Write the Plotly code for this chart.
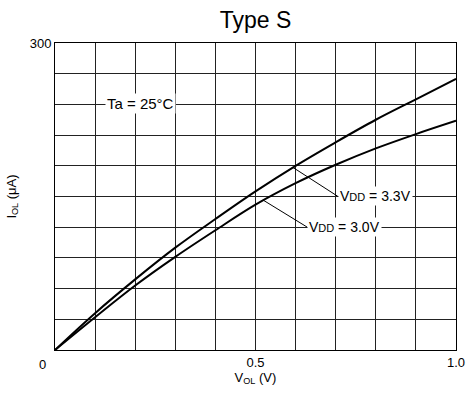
import plotly.graph_objects as go

# Output current vs output voltage, Type S, Ta = 25 °C
v_ol = [0.0, 0.1, 0.2, 0.3, 0.4, 0.5, 0.6, 0.7, 0.8, 0.9, 1.0]
i_ol_33 = [0, 36, 69, 100, 128, 155, 180, 203, 225, 245, 265]
i_ol_30 = [0, 32, 63, 91, 117, 142, 163, 181, 197, 211, 224]

x_ticks = [0.5, 1.0]
x_tick_text = ["0.5", "1.0"]
y_ticks = [300]
y_tick_text = ["300"]

FONT = "Liberation Sans, Arial, sans-serif"

fig = go.Figure()
for ys in (i_ol_33, i_ol_30):
    fig.add_trace(go.Scatter(
        x=v_ol, y=ys, mode="lines", line=dict(color="black", width=2, shape="spline"),
        showlegend=False, hoverinfo="skip",
    ))

axis_common = dict(
    showgrid=True, gridcolor="#222", gridwidth=1,
    showline=True, linecolor="black", linewidth=1, mirror=True,
    zeroline=False, ticks="", automargin=False,
    tickfont=dict(family=FONT, size=13, color="black"),
)

fig.update_xaxes(
    range=[0, 1.0], tickmode="array",
    tickvals=x_ticks, ticktext=x_tick_text,
    title=dict(text="V<sub>OL</sub> (V)", font=dict(family=FONT, size=13, color="black"), standoff=3),
    minor=dict(dtick=0.1, showgrid=True, gridcolor="#222", gridwidth=1, ticks=""),
    **axis_common,
)
fig.update_yaxes(
    range=[0, 300], tickmode="array",
    tickvals=y_ticks, ticktext=y_tick_text,
    title=dict(text="I<sub>OL</sub> (μA)", font=dict(family=FONT, size=13, color="black"), standoff=10),
    minor=dict(dtick=30, showgrid=True, gridcolor="#222", gridwidth=1, ticks=""),
    **axis_common,
)

fig.add_annotation(x=0, y=0, xref="paper", yref="paper", text="0", showarrow=False,
                   xanchor="right", yanchor="top", xshift=-7, yshift=-5,
                   font=dict(family=FONT, size=13, color="black"))

fig.add_annotation(x=0.212, y=240, text="Ta = 25°C", showarrow=False,
                   bgcolor="white", borderpad=1, yshift=1,
                   font=dict(family=FONT, size=15, color="black"))

label_font = dict(family=FONT, size=14, color="black")
fig.add_annotation(x=0.593, y=178.5, text="V<span style='font-size:11px'>DD</span> = 3.3V",
                   showarrow=True, arrowhead=0, arrowwidth=1, arrowcolor="black",
                   ax=45, ay=29, xanchor="left", bgcolor="white", borderpad=1,
                   font=label_font)
fig.add_annotation(x=0.519, y=146.5, text="V<span style='font-size:11px'>DD</span> = 3.0V",
                   showarrow=True, arrowhead=0, arrowwidth=1, arrowcolor="black",
                   ax=44, ay=27, xanchor="left", bgcolor="white", borderpad=1,
                   font=label_font)

fig.update_layout(
    width=466, height=394,
    margin=dict(l=55, r=10, t=43, b=44),
    paper_bgcolor="white", plot_bgcolor="white",
    title=dict(text="Type S", xref="paper", x=0.5, xanchor="center",
               yref="container", y=0.95, yanchor="middle",
               font=dict(family=FONT, size=23, color="black")),
)

fig.write_html("out.html")
